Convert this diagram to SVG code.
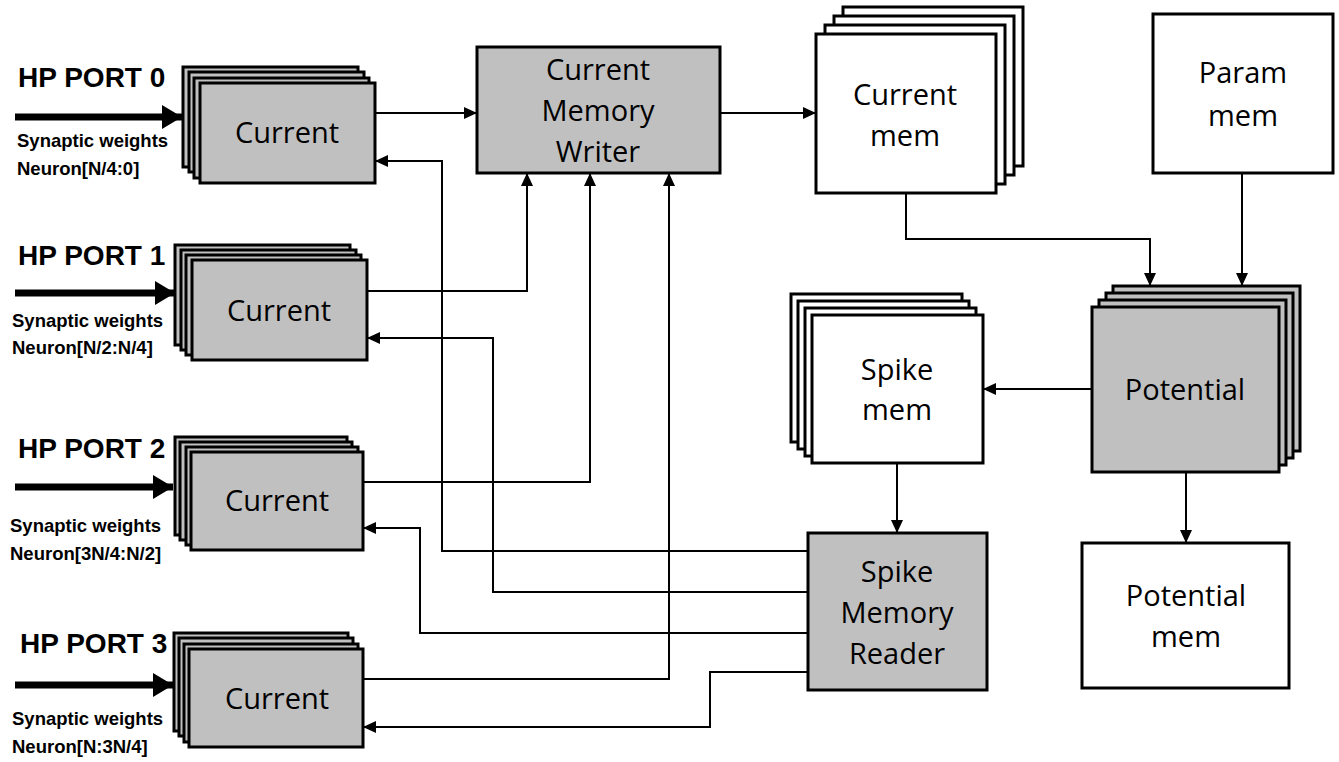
<svg xmlns="http://www.w3.org/2000/svg" width="1339" height="762" viewBox="0 0 1339 762">
<defs>
<style>
.g{fill:#c0c0c0;stroke:#000;stroke-width:3}
.w{fill:#fff;stroke:#000;stroke-width:3}
.t{font-family:"Open Sans","Liberation Sans",sans-serif;font-size:29px;fill:#000;text-anchor:middle}
.h{font-family:"Liberation Sans",Arial,sans-serif;font-weight:bold;font-size:28px;fill:#000}
.s{font-family:"Liberation Sans",Arial,sans-serif;font-weight:bold;font-size:18.5px;fill:#000}
.c{fill:none;stroke:#000;stroke-width:2}
.b{fill:none;stroke:#000;stroke-width:7}
</style>
<marker id="a" markerUnits="userSpaceOnUse" markerWidth="13" markerHeight="12" refX="13" refY="6" orient="auto">
<path d="M0,0 L13,6 L0,12 z" fill="#000"/>
</marker>
<marker id="A" markerUnits="userSpaceOnUse" markerWidth="20" markerHeight="24" refX="20" refY="12" orient="auto">
<path d="M0,0 L20,12 L0,24 z" fill="#000"/>
</marker>
</defs>

<g id="connectors">
<path class="c" d="M375,113 H477" marker-end="url(#a)"/>
<path class="c" d="M720,113 H816" marker-end="url(#a)"/>
<path class="c" d="M367,291 H527 V173" marker-end="url(#a)"/>
<path class="c" d="M363,482 H590 V173" marker-end="url(#a)"/>
<path class="c" d="M363,679 H669 V173" marker-end="url(#a)"/>
<path class="c" d="M808,551 H442 V161 H375" marker-end="url(#a)"/>
<path class="c" d="M808,592 H493 V338 H367" marker-end="url(#a)"/>
<path class="c" d="M808,633 H420 V528 H363" marker-end="url(#a)"/>
<path class="c" d="M808,672 H710 V727 H363" marker-end="url(#a)"/>
<path class="c" d="M906,193 V239 H1150 V286" marker-end="url(#a)"/>
<path class="c" d="M1242,173 V286" marker-end="url(#a)"/>
<path class="c" d="M1092,389 H983" marker-end="url(#a)"/>
<path class="c" d="M897,463 V533" marker-end="url(#a)"/>
<path class="c" d="M1186,472 V543" marker-end="url(#a)"/>
<path class="b" d="M15,117 H182" marker-end="url(#A)"/>
<path class="b" d="M15,293 H175" marker-end="url(#A)"/>
<path class="b" d="M15,487 H173" marker-end="url(#A)"/>
<path class="b" d="M15,685 H173" marker-end="url(#A)"/>
</g>

<g id="port0">
<text class="h" x="18" y="87">HP PORT 0</text>
<text class="s" x="17" y="147">Synaptic weights</text>
<text class="s" x="17" y="175">Neuron[N/4:0]</text>
</g>
<g id="port1">
<text class="h" x="18" y="265">HP PORT 1</text>
<text class="s" x="12" y="327">Synaptic weights</text>
<text class="s" x="12" y="354">Neuron[N/2:N/4]</text>
</g>
<g id="port2">
<text class="h" x="18" y="458">HP PORT 2</text>
<text class="s" x="10" y="532">Synaptic weights</text>
<text class="s" x="10" y="560">Neuron[3N/4:N/2]</text>
</g>
<g id="port3">
<text class="h" x="20" y="653">HP PORT 3</text>
<text class="s" x="12" y="725">Synaptic weights</text>
<text class="s" x="12" y="753">Neuron[N:3N/4]</text>
</g>

<g id="current0">
<rect class="g" x="183" y="67" width="175" height="100"/>
<rect class="g" x="189" y="72" width="175" height="100"/>
<rect class="g" x="194" y="78" width="175" height="100"/>
<rect class="g" x="200" y="83" width="175" height="100"/>
<text class="t" x="287" y="143">Current</text>
</g>
<g id="current1">
<rect class="g" x="175" y="245" width="175" height="100"/>
<rect class="g" x="181" y="250" width="175" height="100"/>
<rect class="g" x="186" y="255" width="175" height="100"/>
<rect class="g" x="192" y="260" width="175" height="100"/>
<text class="t" x="279" y="321">Current</text>
</g>
<g id="current2">
<rect class="g" x="175" y="437" width="172" height="98"/>
<rect class="g" x="180" y="442" width="172" height="98"/>
<rect class="g" x="186" y="447" width="172" height="98"/>
<rect class="g" x="191" y="452" width="172" height="98"/>
<text class="t" x="277" y="511">Current</text>
</g>
<g id="current3">
<rect class="g" x="174" y="633" width="174" height="98"/>
<rect class="g" x="179" y="638" width="174" height="98"/>
<rect class="g" x="184" y="644" width="174" height="98"/>
<rect class="g" x="189" y="649" width="174" height="98"/>
<text class="t" x="277" y="709">Current</text>
</g>

<g id="cmw">
<rect class="g" x="477" y="47" width="243" height="126"/>
<text class="t" x="598" y="80">Current</text>
<text class="t" x="598" y="121">Memory</text>
<text class="t" x="598" y="162">Writer</text>
</g>

<g id="currentmem">
<rect class="w" x="843" y="7" width="180" height="159"/>
<rect class="w" x="834" y="16" width="180" height="159"/>
<rect class="w" x="825" y="25" width="180" height="159"/>
<rect class="w" x="816" y="34" width="180" height="159"/>
<text class="t" x="905" y="105">Current</text>
<text class="t" x="905" y="146">mem</text>
</g>

<g id="parammem">
<rect class="w" x="1153" y="14" width="180" height="159"/>
<text class="t" x="1243" y="83">Param</text>
<text class="t" x="1243" y="126">mem</text>
</g>

<g id="potential">
<rect class="g" x="1113" y="286" width="187" height="165"/>
<rect class="g" x="1106" y="293" width="187" height="165"/>
<rect class="g" x="1099" y="300" width="187" height="165"/>
<rect class="g" x="1092" y="307" width="187" height="165"/>
<text class="t" x="1185" y="400">Potential</text>
</g>

<g id="spikemem">
<rect class="w" x="791" y="294" width="171" height="148"/>
<rect class="w" x="798" y="301" width="171" height="148"/>
<rect class="w" x="805" y="308" width="171" height="148"/>
<rect class="w" x="812" y="315" width="171" height="148"/>
<text class="t" x="897" y="380">Spike</text>
<text class="t" x="897" y="420">mem</text>
</g>

<g id="smr">
<rect class="g" x="808" y="533" width="179" height="157"/>
<text class="t" x="897" y="582">Spike</text>
<text class="t" x="897" y="623">Memory</text>
<text class="t" x="897" y="664">Reader</text>
</g>

<g id="potentialmem">
<rect class="w" x="1082" y="543" width="207" height="145"/>
<text class="t" x="1186" y="606">Potential</text>
<text class="t" x="1186" y="647">mem</text>
</g>
</svg>
